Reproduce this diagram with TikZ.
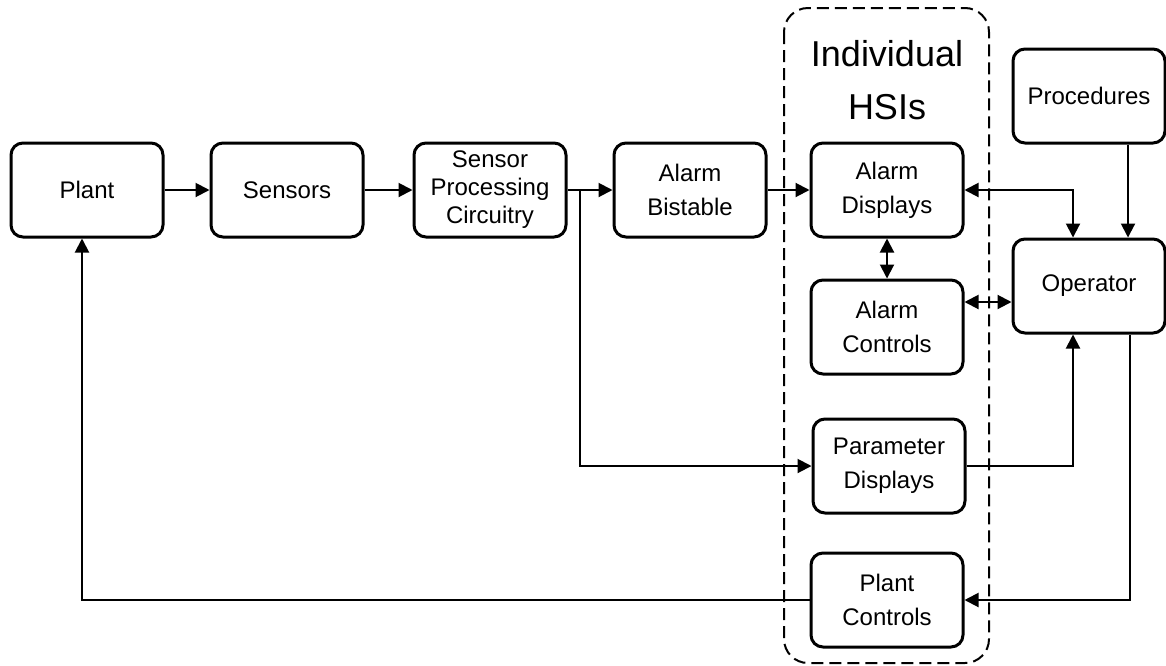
\documentclass[tikz,border=0pt]{standalone}
\usepackage{fontspec}
\setmainfont{Liberation Sans}
\usetikzlibrary{positioning,arrows.meta}
\tikzset{
  blk/.style={draw,line width=1.5pt,rounded corners=6pt,align=center,
    minimum width=76pt,minimum height=47pt,inner sep=2pt,
    font=\fontsize{12}{17}\selectfont},
  arr/.style={line width=1pt,-{Triangle[length=7pt,width=7pt]}},
  dbl/.style={line width=1pt,{Triangle[length=7pt,width=7pt]}-{Triangle[length=7pt,width=7pt]}},
}
\begin{document}
\begin{tikzpicture}
\node[blk](PL) at (43.5pt,-95pt){Plant};
\node[blk,right of = PL,node distance=100pt](SE){Sensors};
\node[blk,right of = SE,node distance=101.5pt,font=\fontsize{12}{14}\selectfont](SPC){Sensor\\Processing\\Circuitry};
\node[blk,right of = SPC,node distance=100pt](AB){Alarm\\Bistable};
\node[blk,right of = AB,node distance=98.5pt](AD){Alarm\\Displays};
\node[blk,below of = AD,node distance=68.5pt](AC){Alarm\\Controls};
\node[blk,below of = AC,node distance=69.5pt,xshift=1pt](PD){Parameter\\Displays};
\node[blk,below of = PD,node distance=67pt,xshift=-1pt](PC){Plant\\Controls};
\node[blk,right of = AD,node distance=101pt,yshift=-48pt](OP){Operator};
\node[blk,above of = OP,node distance=95pt](PR){Procedures};
\node[align=center,font=\fontsize{18}{26.5}\selectfont,above of = AD,node distance=55pt](HSI){Individual\\HSIs};
% dashed group
\draw[line width=1pt,dash pattern=on 6pt off 3pt,rounded corners=12pt] (392pt,-4pt) rectangle (494.5pt,-331.5pt);
% signal path
\draw[arr] (PL) -- (SE);
\draw[arr] (SE) -- (SPC);
\draw[arr] (SPC) -- (AB);
\draw[arr] (AB) -- (AD);
\coordinate[right=6pt of SPC.east] (BR);
\draw[arr] (BR) |- (PD);
% operator links
\draw[dbl] (AD) -| ([xshift=-8pt]OP.north);
\draw[dbl] (AD) -- (AC);
\draw[dbl] ([yshift=12.5pt]AC.east) -- ([yshift=12.5pt]AC.east -| OP.west);
\draw[arr] ([xshift=19.5pt]PR.south) -- ([xshift=19.5pt]OP.north);
\draw[arr] (PD) -| ([xshift=-8pt]OP.south);
\draw[arr] ([xshift=20.5pt]OP.south) |- (PC);
\draw[arr] (PC) -| ([xshift=-2.5pt]PL.south);
\pgfresetboundingbox
\path[use as bounding box] (0,0) rectangle (583pt,-332.5pt);
\end{tikzpicture}
\end{document}
